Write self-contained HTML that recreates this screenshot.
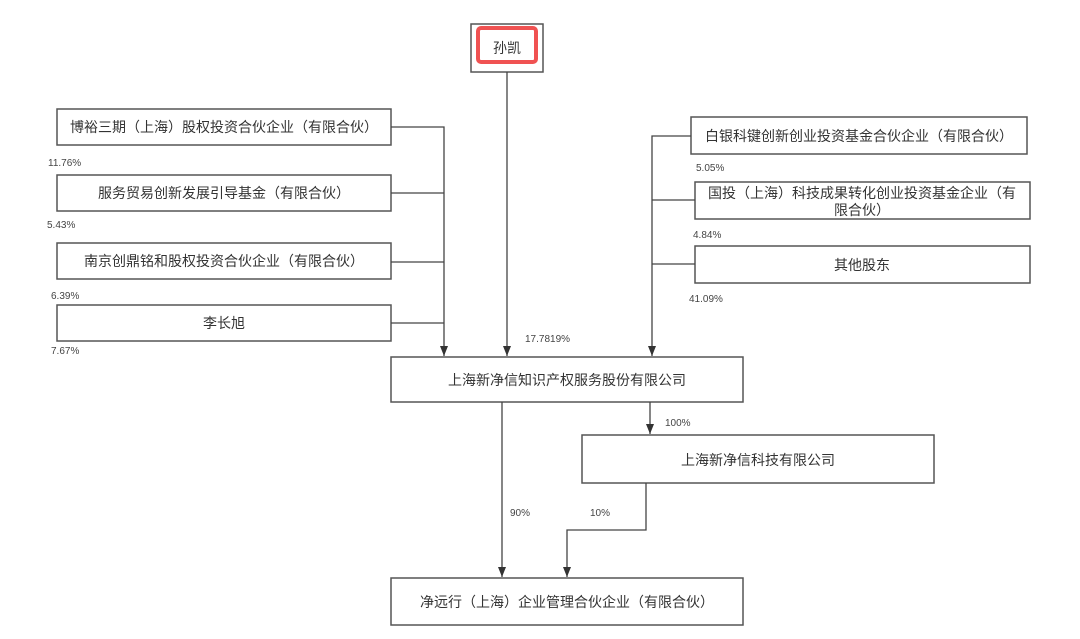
<!DOCTYPE html>
<html><head><meta charset="utf-8"><style>
html,body{margin:0;padding:0;background:#fff;}
svg{display:block;}
text{font-family:"Liberation Sans","Noto Sans CJK SC",sans-serif;fill:#333;}
.b{fill:#fff;stroke:#555;stroke-width:1.5;}
.l{stroke:#444;stroke-width:1.3;fill:none;}
.t{font-size:14px;text-anchor:middle;}
.p{font-size:10px;fill:#444;}
</style></head><body>
<svg width="1080" height="639" viewBox="0 0 1080 639">
<defs><marker id="a" markerWidth="10" markerHeight="8" refX="10" refY="4" orient="auto" markerUnits="userSpaceOnUse"><path d="M0,0 L10,4 L0,8 z" fill="#333"/></marker></defs>
<rect class="b" x="471" y="24" width="72" height="48"/>
<rect x="478" y="28" width="58" height="34" rx="3" fill="none" stroke="#f05252" stroke-width="4"/>
<text class="t" x="507" y="53">孙凯</text>
<line class="l" x1="507" y1="72" x2="507" y2="356" marker-end="url(#a)"/>
<text class="p" x="525" y="342">17.7819%</text>

<rect class="b" x="57" y="109" width="334" height="36"/><text class="t" x="224" y="132">博裕三期（上海）股权投资合伙企业（有限合伙）</text>
<rect class="b" x="57" y="175" width="334" height="36"/><text class="t" x="224" y="198">服务贸易创新发展引导基金（有限合伙）</text>
<rect class="b" x="57" y="243" width="334" height="36"/><text class="t" x="224" y="266">南京创鼎铭和股权投资合伙企业（有限合伙）</text>
<rect class="b" x="57" y="305" width="334" height="36"/><text class="t" x="224" y="328">李长旭</text>
<text class="p" x="48" y="166">11.76%</text>
<text class="p" x="47" y="228">5.43%</text>
<text class="p" x="51" y="299">6.39%</text>
<text class="p" x="51" y="354">7.67%</text>
<path class="l" d="M391 127 H444 V356" marker-end="url(#a)"/>
<line class="l" x1="391" y1="193" x2="444" y2="193"/>
<line class="l" x1="391" y1="262" x2="444" y2="262"/>
<line class="l" x1="391" y1="323" x2="444" y2="323"/>

<rect class="b" x="691" y="117" width="336" height="37"/><text class="t" x="859" y="141">白银科键创新创业投资基金合伙企业（有限合伙）</text>
<rect class="b" x="695" y="182" width="335" height="37"/><text class="t" x="862" y="198">国投（上海）科技成果转化创业投资基金企业（有</text><text class="t" x="862" y="215">限合伙）</text>
<rect class="b" x="695" y="246" width="335" height="37"/><text class="t" x="862" y="270">其他股东</text>
<text class="p" x="696" y="171">5.05%</text>
<text class="p" x="693" y="238">4.84%</text>
<text class="p" x="689" y="302">41.09%</text>
<path class="l" d="M691 136 H652 V356" marker-end="url(#a)"/>
<line class="l" x1="652" y1="200" x2="695" y2="200"/>
<line class="l" x1="652" y1="264" x2="695" y2="264"/>

<rect class="b" x="391" y="357" width="352" height="45"/><text class="t" x="567" y="385">上海新净信知识产权服务股份有限公司</text>
<line class="l" x1="650" y1="402" x2="650" y2="434" marker-end="url(#a)"/>
<text class="p" x="665" y="426">100%</text>
<rect class="b" x="582" y="435" width="352" height="48"/><text class="t" x="758" y="465">上海新净信科技有限公司</text>
<line class="l" x1="502" y1="402" x2="502" y2="577" marker-end="url(#a)"/>
<text class="p" x="510" y="516">90%</text>
<path class="l" d="M646 483 V530 H567 V577" marker-end="url(#a)"/>
<text class="p" x="590" y="516">10%</text>
<rect class="b" x="391" y="578" width="352" height="47"/><text class="t" x="567" y="607">净远行（上海）企业管理合伙企业（有限合伙）</text>
</svg>
</body></html>
